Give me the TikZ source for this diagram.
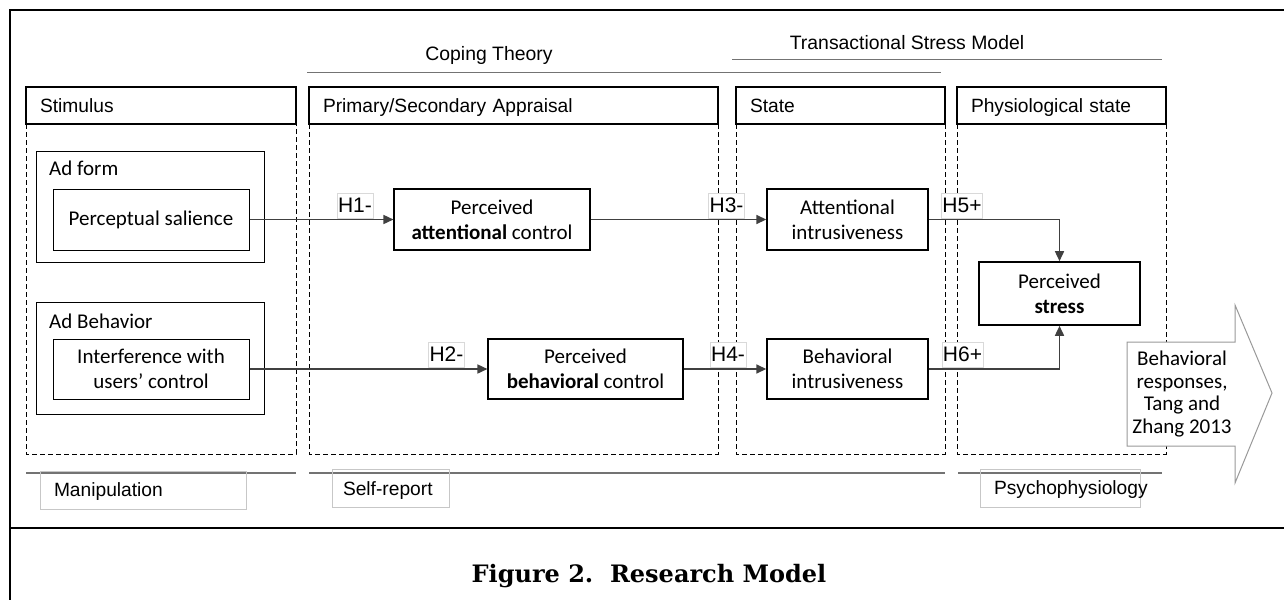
\documentclass[tikz,border=0pt]{standalone}
\usepackage{fontspec}
\setmainfont{Carlito}
\newfontfamily\arialfont{Liberation Sans}
\newfontfamily\captfont{DejaVu Serif}
\usetikzlibrary{arrows.meta}

\begin{document}
\begin{tikzpicture}[x=1pt,y=-1pt,
    hdr/.style={draw, line width=1.6pt, minimum height=37pt, inner xsep=14pt, inner ysep=0pt,
        text height=13.5pt, text depth=0pt, align=left, font=\arialfont\fontsize{19.2}{22}\selectfont},
    col/.style={line width=0.7pt, dash pattern=on 5pt off 3pt},
    grp/.style={draw, line width=1pt, inner sep=0pt},
    cons/.style={draw, line width=1.1pt, align=center, inner sep=0pt, font=\fontsize{21}{25}\selectfont},
    hyp/.style={draw=black!15, fill=white, inner xsep=1pt, inner ysep=2.5pt, text height=16.5pt,
        text depth=3.5pt, font=\arialfont\fontsize{21}{24}\selectfont},
    meas/.style={draw=black!22, line width=0.8pt, minimum height=38pt, inner xsep=14pt, inner ysep=0pt,
        text height=13.5pt, text depth=0pt, align=left, font=\arialfont\fontsize{19.2}{22}\selectfont},
    theory/.style={font=\arialfont\fontsize{19.4}{22}\selectfont},
    link/.style={-{Triangle[length=10pt,width=9pt]}, line width=1.6pt, draw=black!75}]
    \useasboundingbox (0,0) rectangle (1284,600);

    % outer frame
    \draw[line width=2.5pt] (1284,10) -- (10,10) -- (10,600);
    \draw[line width=2.5pt] (10,528) -- (1284,528);

    % theories
    \node[theory] (coping) at (489,55) {Coping Theory};
    \draw[line width=1pt, black!55] (307,72) -- (941,72);
    \node[theory] (tsm) at (907,43) {Transactional Stress Model};
    \draw[line width=1pt, black!55] (732,59) -- (1162,59);

    % dashed columns
    \draw[col] (26,124) rectangle (296,454);
    \draw[col] (309,124) rectangle (718,454);
    \draw[col] (736,124) rectangle (945,454);
    \draw[col] (957,124) rectangle (1166,454);

    % column headers
    \node[hdr, text width=242pt] (hstim) at (161,105.5) {Stimulus};
    \node[hdr, text width=381pt] (happr) at (513.5,105.5) {Primary/Secondary Appraisal};
    \node[hdr, text width=181pt] (hstate) at (840.5,105.5) {State};
    \node[hdr, text width=181pt] (hphys) at (1061.5,105.5) {Physiological state};

    % stimulus groups
    \node[grp, minimum width=228pt, minimum height=111pt] (adform) at (150,206.5) {};
    \node[anchor=base west, inner sep=0pt, font=\fontsize{21}{25}\selectfont] (adformlbl) at (49,175) {Ad form};
    \node[cons, line width=1pt, minimum width=196pt, minimum height=61pt] (salience) at (151,219.5) {Perceptual salience};

    \node[grp, minimum width=228pt, minimum height=112pt] (adbeh) at (150,358) {};
    \node[anchor=base west, inner sep=0pt, font=\fontsize{21}{25}\selectfont] (adbehlbl) at (49,328) {Ad Behavior};
    \node[cons, line width=1pt, minimum width=196pt, minimum height=60pt] (interf) at (151,369) {Interference with\\users’ control};

    % appraisal, state and stress
    \node[cons, minimum width=196pt, minimum height=61pt] (pac) at (492,219.5) {Perceived\\\textbf{attentional} control};
    \node[cons, minimum width=195pt, minimum height=60pt] (pbc) at (585.5,369) {Perceived\\\textbf{behavioral} control};
    \node[cons, line width=1.4pt, minimum width=161pt, minimum height=61pt] (ai) at (847.5,219.5) {Attentional\\intrusiveness};
    \node[cons, line width=1.4pt, minimum width=161pt, minimum height=60pt] (bi) at (847.5,369) {Behavioral\\intrusiveness};
    \node[cons, line width=1.6pt, minimum width=161pt, minimum height=63pt] (stress) at (1059.5,293.5) {Perceived\\\textbf{stress}};

    % hypotheses
    \draw[link] (salience) -- (pac);
    \draw[link] (interf) -- (pbc);
    \draw[link] (pac) -- (ai);
    \draw[link] (pbc) -- (bi);
    \draw[link] (ai.east) -| (stress.north);
    \draw[link] (bi.east) -| (stress.south);

    \node[hyp] (h1) at (355,205.5) {H1-};
    \node[hyp] (h2) at (446.5,354.5) {H2-};
    \node[hyp] (h3) at (726.5,205.5) {H3-};
    \node[hyp] (h4) at (728,355) {H4-};
    \node[hyp] (h5) at (962,205.5) {H5+};
    \node[hyp] (h6) at (962.5,355) {H6+};

    % measurement
    \draw[line width=2pt, black!55] (26,473) -- (296,473);
    \draw[line width=2pt, black!55] (309,473) -- (945,473);
    \draw[line width=2pt, black!55] (958,473) -- (1162,473);
    \node[meas, text width=178pt] (manip) at (143,490) {Manipulation};
    \node[meas, inner xsep=11pt, text width=95pt] (selfrep) at (390.5,488.5) {Self-report};
    \node[meas, text width=132pt] (psycho) at (1060,488) {Psychophysiology};

    % outcome arrow
    \draw[line width=1pt, black!40, fill=white] (1127,342) -- (1235,342) -- (1235,305) -- (1272,393)
        -- (1235,483) -- (1235,446) -- (1127,446) -- cycle;
    \node[align=center, font=\fontsize{21}{22.4}\selectfont] (resp) at (1182,394)
        {Behavioral\\responses,\\Tang and\\Zhang 2013};

    % caption
    \node[font=\captfont\bfseries\fontsize{24}{28}\selectfont] (caption) at (649,576) {Figure 2.\ \ Research Model};
\end{tikzpicture}
\end{document}
